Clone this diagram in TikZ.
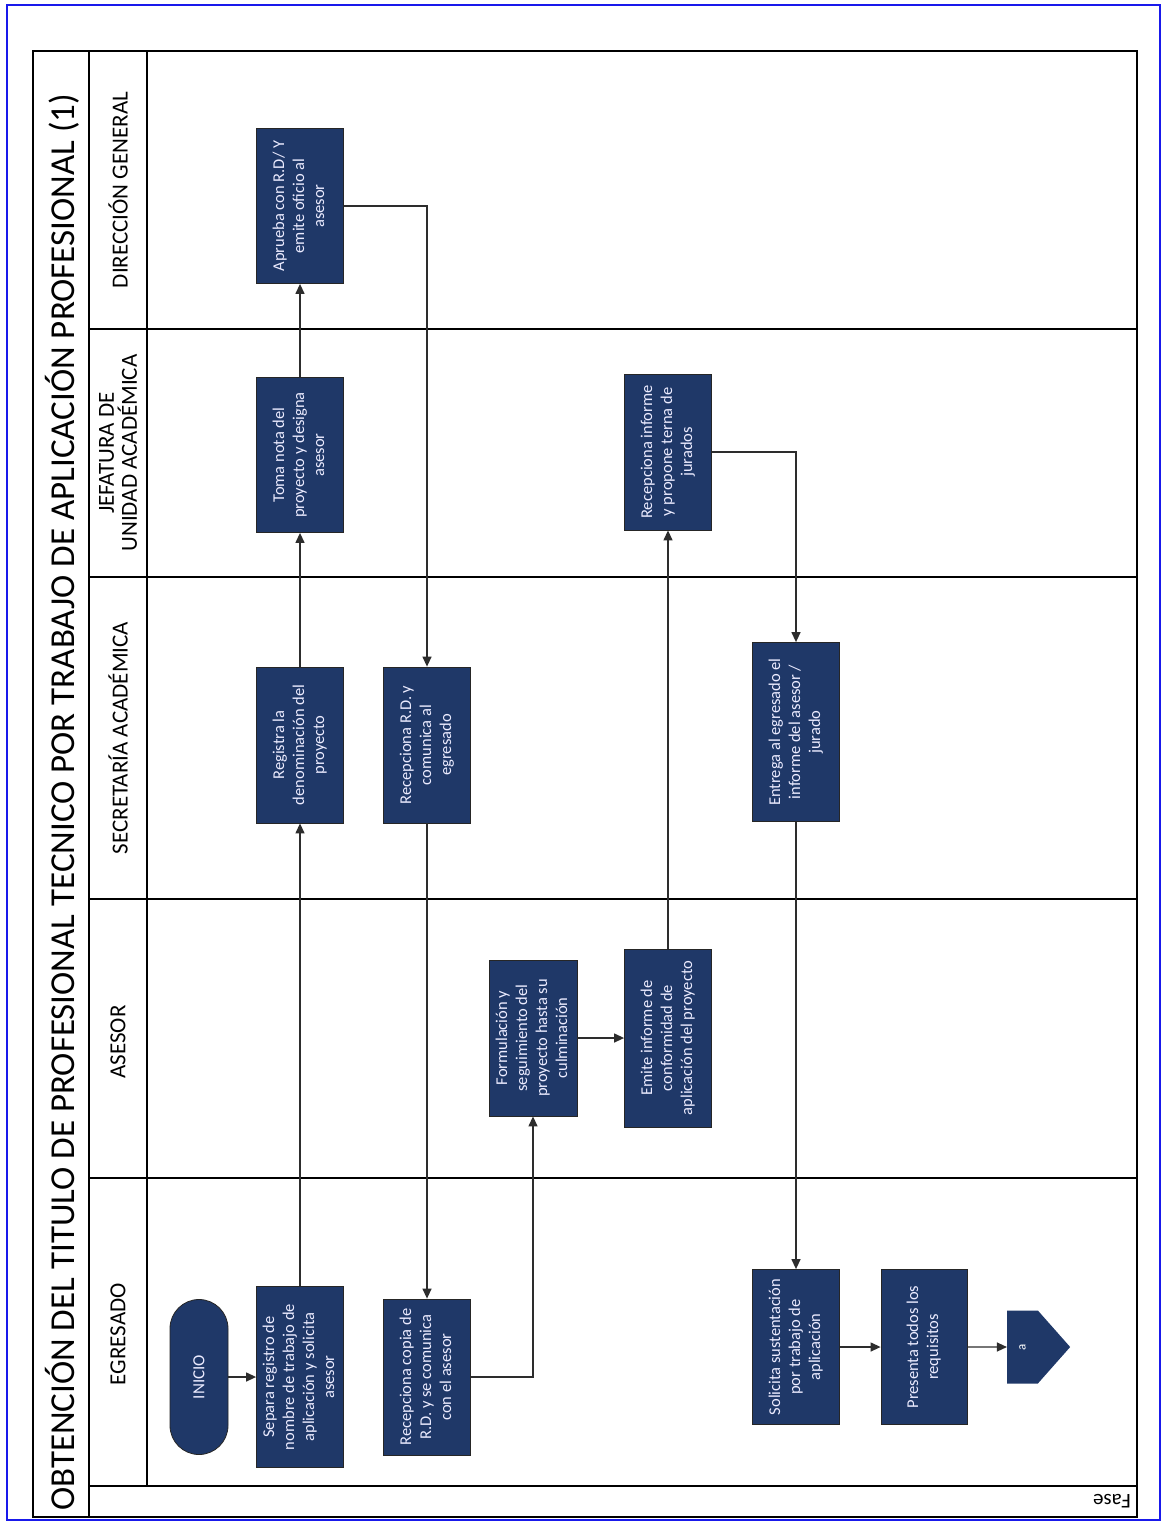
\documentclass[tikz,border=0pt]{standalone}
\usepackage{fontspec}
\setmainfont{Carlito}
\usetikzlibrary{arrows.meta,shapes.symbols}

\definecolor{navy}{RGB}{31,56,104}
\definecolor{frameblue}{RGB}{25,25,235}
\definecolor{wire}{RGB}{45,45,45}

% multi-line text set vertically (reading bottom to top)
\newcommand\vlines[1]{\rotatebox{90}{\begin{tabular}{@{}c@{}}#1\end{tabular}}}

\begin{document}
\begin{tikzpicture}[x=1pt,y=-1pt,
  task/.style={draw=black!85, line width=0.8pt, fill=navy, text=white!92!blue,
    minimum width=87pt, minimum height=155pt, inner sep=0pt,
    font=\fontsize{16.5}{20}\selectfont},
  flow/.style={draw=wire, line width=1.3pt, -{Triangle[length=10pt,width=9pt]}},
  lane/.style={line width=1.6pt},
  head/.style={rotate=90, font=\fontsize{23}{23}\selectfont, align=center},
]
\useasboundingbox (0,0) rectangle (1166,1524);
\fill[white] (0,0) rectangle (1166,1524);

% page frame
\draw[frameblue, line width=1.3pt] (7,5) rectangle (1160,1520);

% pool outline and lanes
\draw[line width=2.4pt] (33,51) rectangle (1137,1517);
\draw[lane] (89,51) -- (89,1517);
\draw[lane] (147,51) -- (147,1486);
\draw[lane] (89,1486) -- (1137,1486);
\foreach \yy in {329,577,899,1178} \draw[lane] (89,\yy) -- (1137,\yy);

% title and lane headings
\node[rotate=90, font=\fontsize{35}{38}\selectfont] (title) at (62,802)
  {OBTENCIÓN DEL TITULO DE PROFESIONAL TECNICO POR TRABAJO DE APLICACIÓN PROFESIONAL (1)};
\node[head] (hdir) at (118,190) {DIRECCIÓN GENERAL};
\node[head] (hjef) at (118,453) {JEFATURA DE\\UNIDAD ACADÉMICA};
\node[head] (hsec) at (118,738) {SECRETARÍA ACADÉMICA};
\node[head] (hase) at (118,1042) {ASESOR};
\node[head] (hegr) at (118,1334) {EGRESADO};
\node[rotate=180, font=\fontsize{21}{24}\selectfont] (fase) at (1112,1501) {Fase};

% activities
\node[task] (aprueba) at (300,206) {\vlines{Aprueba con R.D/ Y\\emite oficio al\\asesor}};
\node[task] (toma) at (300,455) {\vlines{Toma nota del\\proyecto y designa\\asesor}};
\node[task, minimum height=156pt] (recinf) at (668,452) {\vlines{Recepciona informe\\y propone terna de\\jurados}};
\node[task, minimum height=156pt] (registra) at (300,745) {\vlines{Registra la\\denominación del\\proyecto}};
\node[task, minimum height=156pt] (recrd) at (427,745) {\vlines{Recepciona R.D. y\\comunica al\\egresado}};
\node[task, minimum height=179pt] (entrega) at (796,732) {\vlines{Entrega al egresado el\\informe del asesor /\\jurado}};
\node[task, minimum width=88pt, minimum height=156pt] (formul) at (533,1038) {\vlines{Formulación y\\seguimiento del\\proyecto hasta su\\culminación}};
\node[task, minimum height=178pt] (emite) at (668,1038) {\vlines{Emite informe de\\conformidad de\\aplicación del proyecto}};
\node[task, rounded corners=29pt, minimum width=58pt, minimum height=155pt,
  font=\fontsize{17}{20}\selectfont] (inicio) at (199,1377) {\rotatebox{90}{INICIO}};
\node[task, minimum height=181pt] (separa) at (300,1377) {\vlines{Separa registro de\\nombre de trabajo de\\aplicación y solicita\\asesor}};
\node[task, minimum height=156pt] (reccopia) at (427,1377) {\vlines{Recepciona copia de\\R.D. y se comunica\\con el asesor}};
\node[task] (solicita) at (796,1347) {\vlines{Solicita sustentación\\por trabajo de\\aplicación}};
\node[task, minimum width=86pt] (presenta) at (924,1347) {\vlines{Presenta todos los\\requisitos}};
\node[signal, signal to=east, signal pointer angle=97, draw=none, fill=navy,
  text=white, minimum width=63pt, minimum height=73pt, inner sep=0pt,
  font=\fontsize{13}{15}\selectfont] (conn) at (1022.5,1347) {\rotatebox{90}{a}};

% flow
\draw[flow] (inicio) -- (separa);
\draw[flow] (separa) -- (registra);
\draw[flow] (registra) -- (toma);
\draw[flow] (toma) -- (aprueba);
\draw[flow] (aprueba.east) -| (recrd.north);
\draw[flow] (recrd) -- (reccopia);
\draw[flow] (reccopia.east) -| (formul.south);
\draw[flow] (formul) -- (emite);
\draw[flow] (emite) -- (recinf);
\draw[flow] (recinf.east) -| (entrega.north);
\draw[flow] (entrega) -- (solicita);
\draw[flow] (solicita) -- (presenta);
\draw[flow] (presenta) -- (conn);
\end{tikzpicture}
\end{document}
